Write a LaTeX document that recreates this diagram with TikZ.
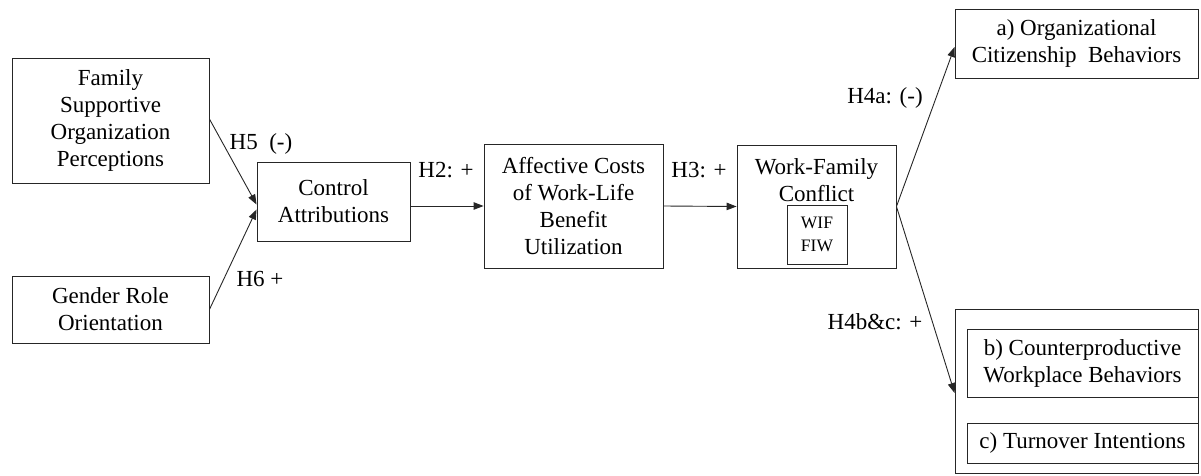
\documentclass[tikz,border=0pt]{standalone}
\usepackage{fontspec}
\setmainfont{Liberation Serif}
\newfontfamily\tnr{Liberation Serif}
\usetikzlibrary{arrows.meta,calc}
\begin{document}
\begin{tikzpicture}[x=1pt,y=-1pt,
  box/.style={draw=black!85,line width=0.9pt,minimum width=#1,inner sep=0pt,align=center,
    font=\tnr\fontsize{23}{27}\selectfont},
  lbl/.style={font=\tnr\fontsize{23}{27}\selectfont,inner sep=0pt},
  conn/.style={draw=black!85,line width=0.9pt,-{Triangle[length=10pt,width=7.5pt]}}]
\useasboundingbox (0,0) rectangle (1201,476);
\node[box=197pt,minimum height=125pt] (fsop) at (110.5,120.5) {Family\\Supportive\\Organization\\Perceptions};
\node[box=197pt,minimum height=67pt] (gro) at (110.5,309.5) {Gender Role\\Orientation};
\node[box=153pt,minimum height=79pt] (ctrl) at (333.5,201.5) {Control\\Attributions};
\node[box=179pt,minimum height=124pt] (aff) at (573.5,206) {Affective Costs\\of Work-Life\\Benefit\\Utilization};
\node[box=159pt,minimum height=123pt] (wfc) at (816.5,206.5) {};
\node[lbl,align=center] (wfct) at (816.5,180) {Work-Family\\Conflict};
\node[box=60pt,minimum height=59pt,font=\tnr\fontsize{17.5}{23}\selectfont] (wif) at (817,234.5) {WIF\\FIW};
\node[box=243pt,minimum height=69pt] (ocb) at (1076.5,43.5) {a) Organizational\\Citizenship\ \ Behaviors};
\node[box=243pt,minimum height=164pt] (outer) at (1076.5,391) {};
\node[box=231pt,minimum height=68pt] (cwb) at (1082.5,363) {b) Counterproductive\\Workplace Behaviors};
\node[box=231pt,minimum height=40pt] (ti) at (1082.5,443) {c) Turnover Intentions};

\draw[conn] ([yshift=1.5pt]fsop.east) -- ([yshift=-3pt]ctrl.west);
\draw[conn] (gro.east) -- ([yshift=-8pt]ctrl.west);
\draw[conn] (ctrl.east |- aff.west) -- (aff.west);
\draw[conn] (aff.east) -- (wfc.west);
\draw[conn] (wfc.east) -- ([yshift=-3.5pt]ocb.west);
\draw[conn] (wfc.east) -- ([yshift=-2pt]outer.west);

\node[lbl] (l5) at (261,144) {H5\ \ (-)};
\node[lbl] (l6) at (260,279) {H6 +};
\node[lbl] (l2) at (446,170) {H2: +};
\node[lbl] (l3) at (699,170) {H3: +};
\node[lbl] (l4a) at (885,98) {H4a: (-)};
\node[lbl] (l4b) at (875,322) {H4b\&c: +};
\end{tikzpicture}
\end{document}
